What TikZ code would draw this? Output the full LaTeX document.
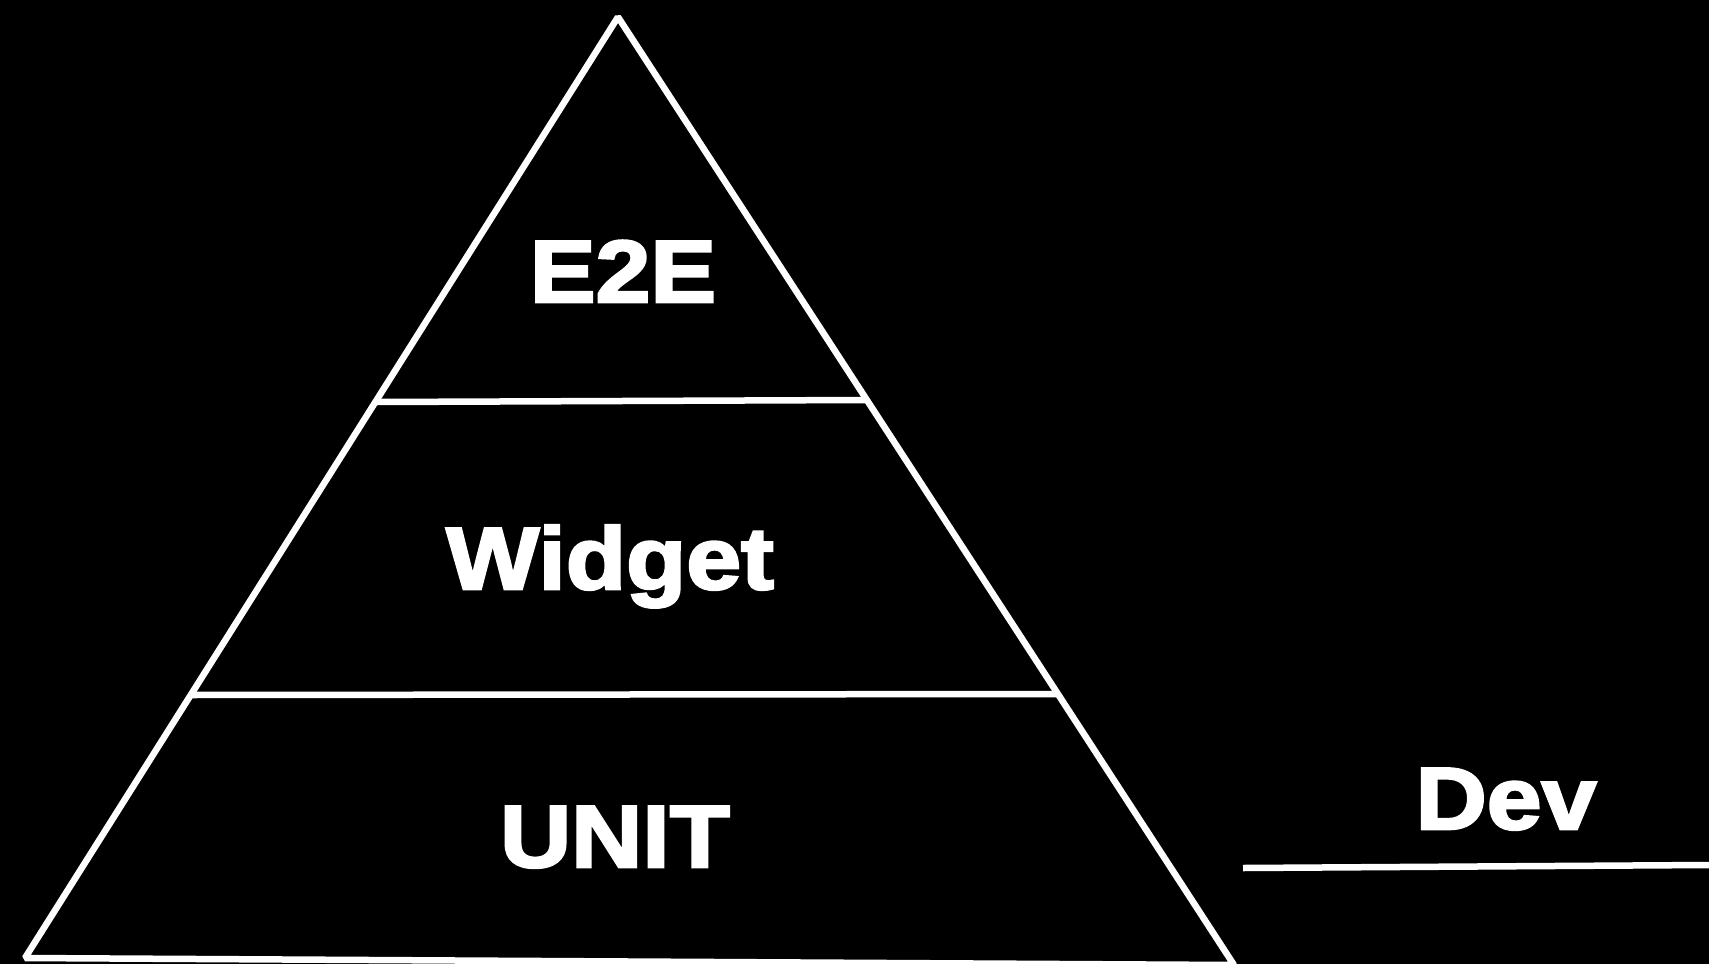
\documentclass[tikz,border=0pt]{standalone}
\usepackage{fontspec}
\newfontfamily\heavy{Liberation Sans}[BoldFeatures={FakeBold=3,FakeStretch=1.12}]
\begin{document}
\begin{tikzpicture}[x=1pt,y=-1pt,
  wline/.style={draw=white,line width=6.5pt},
  lbl/.style={text=white,font=\heavy\bfseries\fontsize{88}{88}\selectfont,anchor=base,inner sep=0pt}]
\fill[black] (0,0) rectangle (1709,964);
\useasboundingbox (0,0) rectangle (1709,964);
\coordinate (apex) at (618,17);
\coordinate (bl) at (25,958);
\coordinate (br) at (1234,965);
\coordinate (d1l) at (376,402);
\coordinate (d1r) at (866,400);
\coordinate (d2l) at (190,695);
\coordinate (d2r) at (1056,694);
\coordinate (devl) at (1243,868);
\coordinate (devr) at (1709,865);
\draw[wline,line join=bevel] (apex) -- (bl) -- (br) -- cycle;
\draw[wline] (d1l) -- (d1r);
\draw[wline] (d2l) -- (d2r);
\draw[wline] (devl) -- (devr);
\node[lbl] (e2e) at (623,302) {E2E};
\node[lbl] (widget) at (610,589) {Widget};
\node[lbl] (unit) at (615,867) {UNIT};
\node[lbl] (dev) at (1506,829) {Dev};
\end{tikzpicture}
\end{document}
